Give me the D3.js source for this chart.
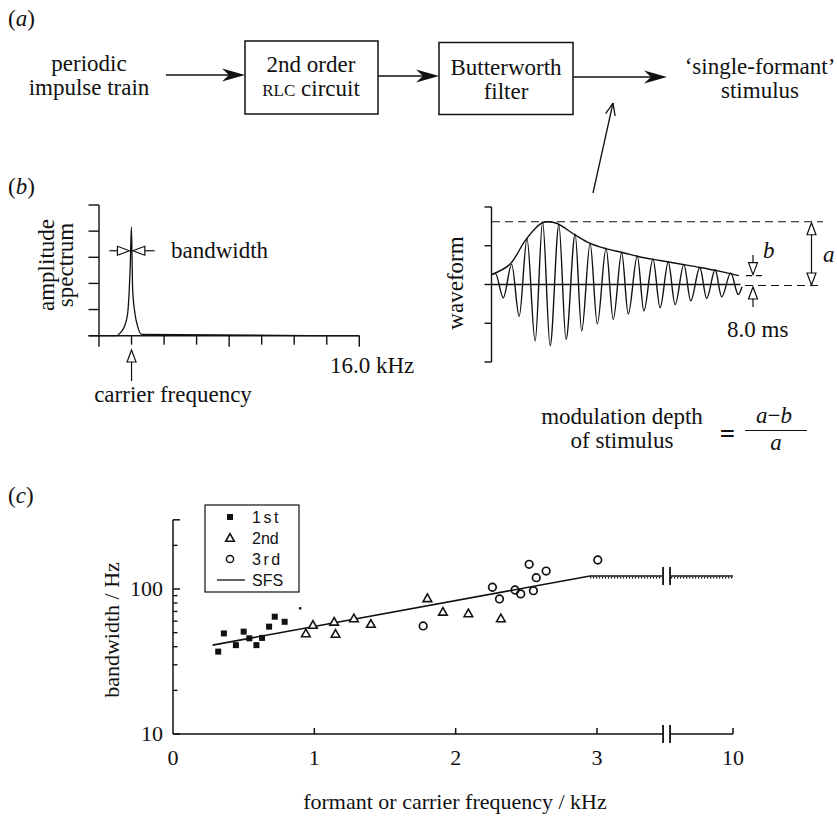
<!DOCTYPE html>
<html>
<head>
<meta charset="utf-8">
<script src="https://cdn.jsdelivr.net/npm/d3@7"></script>
<style>
  body { margin: 0; background: #fff; }
  svg { display: block; }
  text { font-family: "Liberation Serif", "Times New Roman", serif; fill: #111; }
  .sans { font-family: "Liberation Sans", Arial, sans-serif; }
</style>
</head>
<body>
<script>
// (b) left: amplitude spectrum, kHz vs relative amplitude
const specFreq = [0, 1.09, 1.29, 1.56, 1.76, 1.86, 1.92, 1.99, 2.03, 2.07, 2.21, 2.38, 2.62, 16];
const specAmp  = [0, 0, 0.02, 0.07, 0.17, 0.35, 0.53, 0.83, 0.6, 0.35, 0.17, 0.07, 0.01, 0];
const specTicks = [0, 2, 4, 6, 8, 10, 12, 14, 16];
const ampTicks = [0, 0.2, 0.4, 0.6, 0.8, 1];

// (b) right: waveform extrema (ms, amplitude) and its envelope
const waveTime = [0, 0.11, 0.36, 0.63, 0.87, 1.12, 1.38, 1.62, 1.86, 2.14, 2.37, 2.66, 2.87, 3.14, 3.37, 3.65, 3.88,
                  4.15, 4.36, 4.65, 4.86, 5.15, 5.38, 5.64, 5.86, 6.14, 6.36, 6.65, 6.87, 7.14, 7.35, 7.64, 7.88, 8.0];
const waveAmp  = [0.13, 0.14, -0.17, 0.26, -0.41, 0.59, -0.73, 0.81, -0.79, 0.77, -0.71, 0.65, -0.60, 0.53, -0.51, 0.47, -0.45,
                  0.41, -0.38, 0.37, -0.34, 0.33, -0.30, 0.29, -0.26, 0.26, -0.21, 0.22, -0.18, 0.19, -0.16, 0.15, -0.13, -0.03];
const envTime = [0, 0.57, 1.05, 1.4, 1.63, 1.8, 2.07, 2.66, 3.14, 3.67, 4.2, 4.74, 5.38, 6.02, 6.66, 7.3, 7.9];
const envAmp  = [0.13, 0.26, 0.56, 0.73, 0.80, 0.81, 0.79, 0.64, 0.53, 0.46, 0.41, 0.355, 0.31, 0.265, 0.22, 0.17, 0.115];
const waveTicks = [-1, -0.5, 0, 0.5, 1];

// (c) bandwidth (Hz) vs formant frequency (kHz)
const firstF  = [0.32, 0.36, 0.445, 0.50, 0.54, 0.59, 0.63, 0.68, 0.72, 0.79];
const firstBW = [37, 49.4, 41, 50.8, 45.7, 41, 46, 55, 64.4, 59.4];
const strayF = [0.90], strayBW = [73.6];
const secondF  = [0.94, 0.99, 1.14, 1.15, 1.28, 1.40, 1.80, 1.91, 2.09, 2.32];
const secondBW = [49.4, 56.5, 59.4, 49, 62.7, 57.4, 86.3, 69.6, 67.9, 62.7];
const thirdF  = [1.77, 2.26, 2.31, 2.42, 2.46, 2.52, 2.55, 2.57, 2.64, 3.04];
const thirdBW = [55.6, 102.8, 85.4, 98.4, 92.5, 148, 97.3, 119.7, 133, 158.5];
const sfsF  = [0.28, 2.95];
const sfsBW = [41, 123];
const sfsFlatF = [2.95, 10];
const xTicksC = [0, 1, 2, 3, 10];
const yMinorC = [20, 30, 40, 50, 60, 70, 80, 90, 200];
const yMajorC = [10, 100, 300];
const yLabelsC = [10, 100];
const breakF = [6.4, 6.76];

const ink = "#111";
const W = 837, H = 818;
const svg = d3.select("body").append("svg").attr("width", W).attr("height", H);
svg.append("rect").attr("width", W).attr("height", H).attr("fill", "#fff");

function txt(x, y, s, size, anchor) {
  return svg.append("text").attr("x", x).attr("y", y).attr("font-size", size || 23)
    .attr("text-anchor", anchor || "middle").text(s);
}
function seg(x1, y1, x2, y2, w) {
  return svg.append("line").attr("x1", x1).attr("y1", y1).attr("x2", x2).attr("y2", y2)
    .attr("stroke", ink).attr("stroke-width", w || 1.3);
}
function panelLetter(y, l) {
  const t = txt(8, y, "(", 23, "start");
  t.append("tspan").attr("font-style", "italic").text(l);
  t.append("tspan").text(")");
}
// filled, barbed arrow pointing right
function solidArrow(x1, x2, y) {
  seg(x1, y, x2 - 16, y, 1.4);
  svg.append("path").attr("d", `M${x2},${y} L${x2 - 23},${y - 6.5} L${x2 - 16},${y} L${x2 - 23},${y + 6.5} Z`)
    .attr("fill", ink);
}
// open triangular head, tip at (x,y), angle in degrees (0 = pointing right)
function openHead(x, y, angle) {
  svg.append("path").attr("d", "M0,0 L-12,-4.5 L-12,4.5 Z")
    .attr("transform", `translate(${x},${y}) rotate(${angle})`)
    .attr("fill", "#fff").attr("stroke", ink).attr("stroke-width", 1.2).attr("stroke-linejoin", "miter");
}

// ---------- (a) block diagram ----------
panelLetter(26, "a");
txt(89, 71, "periodic");
txt(89, 95, "impulse train");
solidArrow(166, 245, 75);
svg.append("rect").attr("x", 245).attr("y", 41).attr("width", 133).attr("height", 73)
  .attr("fill", "none").attr("stroke", ink).attr("stroke-width", 1.5);
txt(311, 72, "2nd order");
const rlc = txt(311, 96, "", 23);
rlc.append("tspan").attr("font-size", 17).text("RLC");
rlc.append("tspan").text(" circuit");
solidArrow(378, 439, 76);
svg.append("rect").attr("x", 439).attr("y", 42.5).attr("width", 134).attr("height", 72)
  .attr("fill", "none").attr("stroke", ink).attr("stroke-width", 1.5);
txt(506, 75, "Butterworth");
txt(506, 99, "filter");
solidArrow(573, 667, 77);
txt(760, 74, "\u2018single-formant\u2019");
txt(760, 98, "stimulus");
// pointer from waveform up to the stimulus arrow
{
  const x1 = 593, y1 = 193, x2 = 613, y2 = 103;
  seg(x1, y1, x2, y2, 1.3);
  const a = Math.atan2(y1 - y2, x1 - x2), L = 13, h = 0.38;
  seg(x2, y2, x2 + L * Math.cos(a - h), y2 + L * Math.sin(a - h), 1.3);
  seg(x2, y2, x2 + L * Math.cos(a + h), y2 + L * Math.sin(a + h), 1.3);
}

// ---------- (b) spectrum ----------
panelLetter(194, "b");
const xS = d3.scaleLinear().domain([0, 16]).range([99, 359.3]);
const yS = d3.scaleLinear().domain([0, 1]).range([335.7, 205]);
seg(99, yS(1), 99, yS(0), 1.4);
ampTicks.forEach(v => seg(88.5, yS(v), 99, yS(v), 1.4));
seg(88.5, yS(0), xS(16), yS(0), 1.6);
specTicks.forEach(f => seg(xS(f), yS(0), xS(f), yS(0) + (f % 8 === 0 ? 11 : 9), 1.4));
svg.append("path")
  .attr("d", d3.line().x((d, i) => xS(specFreq[i])).y(d => yS(d)).curve(d3.curveMonotoneX)(specAmp))
  .attr("fill", "none").attr("stroke", ink).attr("stroke-width", 1.3);
// bandwidth marks
{
  const y = yS(0.65);
  seg(xS(0.64), y, xS(1.13), y, 1.2);
  openHead(xS(1.87), y, 0);
  openHead(xS(2.08), y, 180);
  seg(xS(2.82), y, xS(3.42), y, 1.2);
  txt(171, 258, "bandwidth", 23, "start");
}
// carrier arrow
openHead(xS(2), 350, -90);
seg(xS(2), 362, xS(2), 381, 1.2);
txt(173, 402, "carrier frequency");
txt(330, 373, "16.0 kHz", 23, "start");
svg.append("text").attr("transform", "translate(46,265) rotate(-90)").attr("font-size", 23)
  .attr("text-anchor", "middle").attr("dominant-baseline", "central").text("amplitude");
svg.append("text").attr("transform", "translate(65,265) rotate(-90)").attr("font-size", 23)
  .attr("text-anchor", "middle").attr("dominant-baseline", "central").text("spectrum");

// ---------- (b) waveform ----------
const xW = d3.scaleLinear().domain([0, 8]).range([492, 742]);
const yW = d3.scaleLinear().domain([-1, 1]).range([362, 207]);
seg(491.5, yW(1), 491.5, yW(-1), 1.4);
waveTicks.forEach(v => seg(484.5, yW(v), 491.5, yW(v), 1.4));
seg(491.5, yW(0), xW(7.95), yW(0), 1.3);
svg.append("path")
  .attr("d", d3.line().x((d, i) => xW(waveTime[i])).y(d => yW(d)).curve(d3.curveMonotoneX)(waveAmp))
  .attr("fill", "none").attr("stroke", ink).attr("stroke-width", 1.4);
svg.append("path")
  .attr("d", d3.line().x((d, i) => xW(envTime[i])).y(d => yW(d)).curve(d3.curveCatmullRom)(envAmp))
  .attr("fill", "none").attr("stroke", ink).attr("stroke-width", 1.4);
svg.append("text").attr("transform", "translate(455,283) rotate(-90)").attr("font-size", 23)
  .attr("text-anchor", "middle").attr("dominant-baseline", "central").text("waveform");
// dashed reference lines
const topY = yW(d3.max(envAmp));
seg(492, topY, 823, topY, 1.2).attr("stroke-dasharray", "8,5");
seg(745, yW(0) + 1, 823, yW(0) + 1, 1.2).attr("stroke-dasharray", "8,5");
const bY = yW(envAmp[envAmp.length - 1]);
seg(746, bY, 763, bY, 1.2).attr("stroke-dasharray", "6,4");
// b arrows
seg(753, 255, 753, 264, 1.2);
openHead(753, bY - 1, 90);
openHead(753, yW(0) + 2.5, -90);
seg(753, yW(0) + 14, 753, 307, 1.2);
txt(763, 258, "b", 23, "start").attr("font-style", "italic");
// a double arrow
seg(811.5, topY + 12, 811.5, yW(0) - 11, 1.2);
openHead(811.5, topY + 1, -90);
openHead(811.5, yW(0) + 0.5, 90);
txt(823, 262, "a", 23, "start").attr("font-style", "italic");
txt(727, 337, "8.0 ms", 23, "start");
// modulation depth formula
txt(622, 424, "modulation depth");
txt(622, 448, "of stimulus");
txt(727.5, 443, "=", 27).attr("font-weight", "bold");
{
  const t = txt(774, 423, "", 23);
  t.append("tspan").attr("font-style", "italic").text("a");
  t.append("tspan").text("\u2212");
  t.append("tspan").attr("font-style", "italic").text("b");
  seg(745, 430.5, 807, 430.5, 1.2);
  txt(776, 450, "a", 23).attr("font-style", "italic");
}

// ---------- (c) bandwidth vs frequency ----------
panelLetter(503, "c");
const xC = d3.scaleLinear().domain([0, 3, 10]).range([173, 597, 733]);
const yC = d3.scaleLog().domain([10, 100]).range([734, 589]);
const bx0 = xC(breakF[0]), bx1 = xC(breakF[1]);
seg(173, yC(300), 173, yC(10), 1.5);
yMajorC.forEach(v => seg(173, yC(v), 180, yC(v), 1.5));
yMinorC.forEach(v => seg(173, yC(v), 177.5, yC(v), 1.4));
svg.append("path").attr("d", `M173,${yC(10)} H${bx0} M${bx1},${yC(10)} H${xC(10)}`)
  .attr("fill", "none").attr("stroke", ink).attr("stroke-width", 1.5);
xTicksC.slice(1).forEach(f => seg(xC(f), yC(10), xC(f), yC(10) - 6, 1.5));
[bx0, bx1].forEach(x => seg(x, yC(10) - 9, x, yC(10) + 9, 1.8));
xTicksC.forEach(f => txt(xC(f), 765, String(f), 22));
yLabelsC.forEach(v => txt(163, yC(v) + 7, String(v), 22, "end"));
txt(455, 809, "formant or carrier frequency / kHz", 22);
svg.append("text").attr("transform", "translate(111,630) rotate(-90)").attr("font-size", 22)
  .attr("text-anchor", "middle").attr("dominant-baseline", "central").text("bandwidth / Hz");

// SFS line
svg.append("path")
  .attr("d", d3.line().x((d, i) => xC(sfsF[i])).y(d => yC(d))(sfsBW))
  .attr("fill", "none").attr("stroke", ink).attr("stroke-width", 1.6);
{
  const y = yC(sfsBW[1]);
  const x0 = xC(sfsFlatF[0]), x1 = xC(sfsFlatF[1]);
  const flat = `M${x0},${y} H${bx0 - 1} M${bx1 + 1},${y} H${x1}`;
  svg.append("path").attr("d", flat).attr("fill", "none").attr("stroke", ink).attr("stroke-width", 1.4);
  svg.append("path").attr("d", flat).attr("transform", "translate(0,1.6)")
    .attr("fill", "none").attr("stroke", ink).attr("stroke-width", 1.8).attr("stroke-dasharray", "1.2,1.8");
  [bx0, bx1].forEach(x => seg(x, y - 9, x, y + 9, 1.8));
}

const tri = "M0,-4.3 L4.3,3.3 L-4.3,3.3 Z";
svg.append("g").selectAll("rect").data(firstBW).join("rect")
  .attr("x", (d, i) => xC(firstF[i]) - 3).attr("y", d => yC(d) - 3)
  .attr("width", 6).attr("height", 6).attr("fill", ink);
svg.append("g").selectAll("rect").data(strayBW).join("rect")
  .attr("x", (d, i) => xC(strayF[i]) - 1.2).attr("y", d => yC(d) - 1.2)
  .attr("width", 2.4).attr("height", 2.4).attr("fill", ink);
svg.append("g").selectAll("path").data(secondBW).join("path")
  .attr("d", tri).attr("transform", (d, i) => `translate(${xC(secondF[i])},${yC(d)})`)
  .attr("fill", "#fff").attr("stroke", ink).attr("stroke-width", 1.6);
svg.append("g").selectAll("circle").data(thirdBW).join("circle")
  .attr("cx", (d, i) => xC(thirdF[i])).attr("cy", d => yC(d)).attr("r", 3.8)
  .attr("fill", "none").attr("stroke", ink).attr("stroke-width", 1.7);

// legend
const legend = [
  { kind: "square", label: "1st", spacing: 2.5 },
  { kind: "triangle", label: "2nd", spacing: 0 },
  { kind: "circle", label: "3rd", spacing: 2.5 },
  { kind: "line", label: "SFS", spacing: 0 }
];
svg.append("rect").attr("x", 205).attr("y", 505).attr("width", 94).attr("height", 87)
  .attr("fill", "#fff").attr("stroke", ink).attr("stroke-width", 1.2);
legend.forEach((d, i) => {
  const y = 517 + i * 21;
  const g = svg.append("g").attr("transform", `translate(230,${y})`);
  if (d.kind === "square") g.append("rect").attr("x", -3).attr("y", -3).attr("width", 6).attr("height", 6).attr("fill", ink);
  if (d.kind === "triangle") g.append("path").attr("d", tri).attr("fill", "#fff").attr("stroke", ink).attr("stroke-width", 1.6);
  if (d.kind === "circle") g.append("circle").attr("r", 3.6).attr("fill", "none").attr("stroke", ink).attr("stroke-width", 1.5);
  if (d.kind === "line") g.append("line").attr("x1", -13).attr("x2", 15).attr("stroke", ink).attr("stroke-width", 1.3);
  svg.append("text").attr("class", "sans").attr("x", 252).attr("y", y + 6).attr("font-size", 16)
    .attr("letter-spacing", d.spacing).text(d.label);
});
</script>
</body>
</html>
